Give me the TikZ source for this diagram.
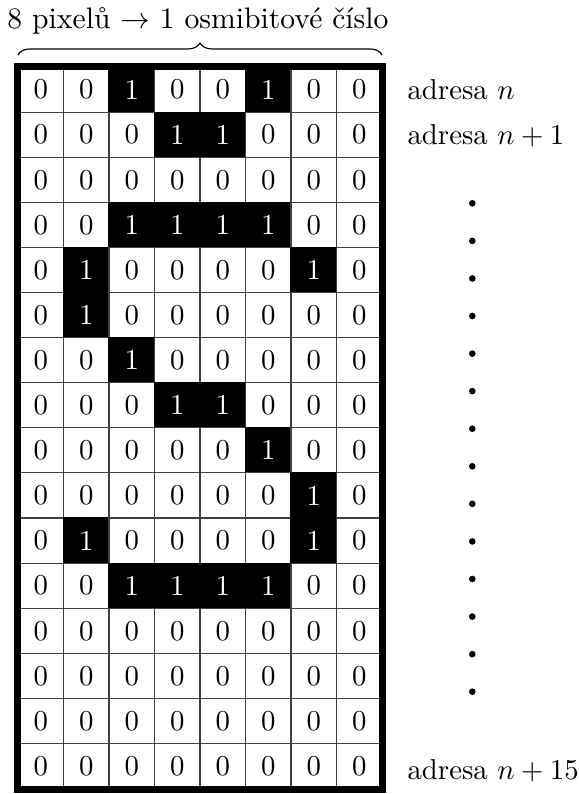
\documentclass[tikz,border=0pt]{standalone}
\usepackage{fontspec}
\usetikzlibrary{decorations.pathreplacing}
\def\bm{{0,0,1,0,0,1,0,0,
0,0,0,1,1,0,0,0,
0,0,0,0,0,0,0,0,
0,0,1,1,1,1,0,0,
0,1,0,0,0,0,1,0,
0,1,0,0,0,0,0,0,
0,0,1,0,0,0,0,0,
0,0,0,1,1,0,0,0,
0,0,0,0,0,1,0,0,
0,0,0,0,0,0,1,0,
0,1,0,0,0,0,1,0,
0,0,1,1,1,1,0,0,
0,0,0,0,0,0,0,0,
0,0,0,0,0,0,0,0,
0,0,0,0,0,0,0,0,
0,0,0,0,0,0,0,0}}
\begin{document}
\begin{tikzpicture}[x=0.3472pt,y=-0.3472pt,
  cellzero/.style={draw=black!75,line width=0.4pt,fill=white,inner sep=0pt,
    minimum width=15.8pt,minimum height=15.66pt,text=black},
  cellone/.style={draw=black,line width=0.4pt,fill=black,inner sep=0pt,
    minimum width=15.8pt,minimum height=15.66pt,text=white},
  addr/.style={anchor=base west,inner sep=0pt},
  dotnode/.style={circle,fill=black,inner sep=0pt,minimum size=2.3pt}]
\useasboundingbox (0,0) rectangle (579,794);
\foreach \r in {0,...,15}{
  \foreach \c in {0,...,7}{
    \pgfmathtruncatemacro\v{\bm[\r*8+\c]}
    \ifnum\v=1
      \node[cellone] (c\r-\c) at (18+45.5*\c+22.75, 67+45.1*\r+22.55) {1};
    \else
      \node[cellzero] (c\r-\c) at (18+45.5*\c+22.75, 67+45.1*\r+22.55) {0};
    \fi
  }
}
\draw[line width=2.4pt] (c0-0.north west) rectangle (c15-7.south east);
\coordinate (bl) at (18,55);
\coordinate (br) at (382,55);
\draw[decorate,decoration={brace,amplitude=4.2pt},line width=0.4pt] (bl) -- (br);
\node[anchor=base,inner sep=0pt,scale=1.03] (title) at (198,28) {8 pixelů $\rightarrow$ 1 osmibitové číslo};
\node[addr] (a0) at (407,99) {adresa $n$};
\node[addr] (a1) at (407,144) {adresa $n+1$};
\node[addr] (a15) at (407,779) {adresa $n+15$};
\foreach \i in {0,...,13}{
  \node[dotnode] (d\i) at (472.3,203.3+37.57*\i) {};
}
\end{tikzpicture}
\end{document}
